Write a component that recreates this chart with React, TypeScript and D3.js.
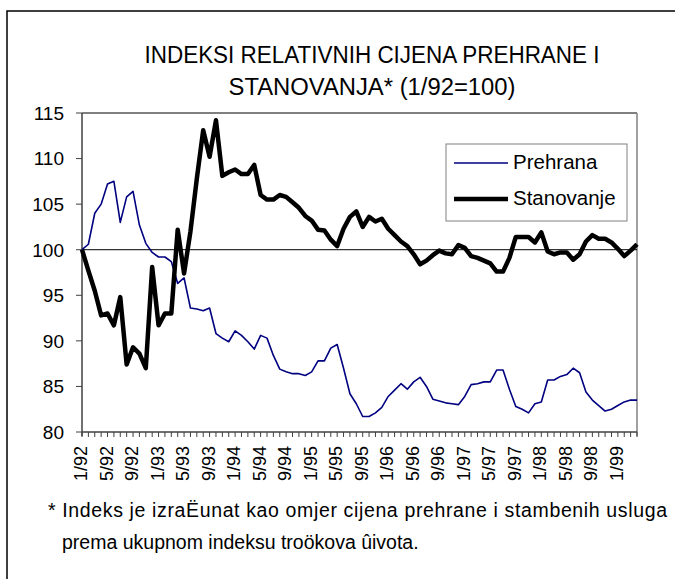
import React from "react";
import * as d3 from "d3";

const W = 675;
const H = 579;

const titleLines = ["INDEKSI RELATIVNIH CIJENA PREHRANE I", "STANOVANJA* (1/92=100)"];
const footnoteLines = [
  "* Indeks je izraËunat kao omjer cijena prehrane i stambenih usluga",
  "prema ukupnom indeksu troökova ûivota.",
];

const months: string[] = Array.from({ length: 88 }, (_, i) => `${(i % 12) + 1}/${92 + Math.floor(i / 12)}`);
const tickLabels = ["1/92","5/92","9/92","1/93","5/93","9/93","1/94","5/94","9/94","1/95","5/95","9/95","1/96","5/96","9/96","1/97","5/97","9/97","1/98","5/98","9/98","1/99"];
const yTicks = [80, 85, 90, 95, 100, 105, 110, 115];

const prehrana = [
  100.0, 100.6, 104.0, 105.0, 107.2, 107.5, 103.0, 105.8, 106.4, 102.7, 100.7, 99.7,
  99.2, 99.2, 98.7, 96.3, 96.9, 93.6, 93.5, 93.3, 93.6, 90.8, 90.3, 89.9,
  91.1, 90.6, 89.9, 89.1, 90.6, 90.3, 88.4, 86.9, 86.6, 86.4, 86.4, 86.2,
  86.6, 87.8, 87.8, 89.2, 89.6, 87.0, 84.2, 83.1, 81.7, 81.7, 82.1, 82.7,
  83.9, 84.6, 85.3, 84.7, 85.5, 86.0, 85.0, 83.6, 83.4, 83.2, 83.1, 83.0,
  83.9, 85.2, 85.3, 85.5, 85.5, 86.8, 86.8, 84.7, 82.8, 82.5, 82.1, 83.1,
  83.3, 85.7, 85.7, 86.1, 86.3, 87.0, 86.5, 84.4, 83.5, 82.9, 82.3, 82.5,
  82.9, 83.3, 83.5, 83.5,
];
const stanovanje = [
  100.0, 97.7, 95.5, 92.8, 93.0, 91.7, 94.8, 87.4, 89.3, 88.6, 87.0, 98.1,
  91.7, 93.0, 93.0, 102.2, 97.4, 102.0, 107.8, 113.1, 110.2, 114.2, 108.1, 108.5,
  108.8, 108.3, 108.3, 109.3, 106.0, 105.5, 105.5, 106.0, 105.8, 105.2, 104.6, 103.7,
  103.2, 102.2, 102.1, 101.1, 100.4, 102.3, 103.6, 104.2, 102.5, 103.6, 103.1, 103.4,
  102.3, 101.6, 100.9, 100.4, 99.5, 98.4, 98.8, 99.4, 99.9, 99.6, 99.5, 100.5,
  100.2, 99.3, 99.1, 98.8, 98.5, 97.6, 97.6, 99.1, 101.4, 101.4, 101.4, 100.8,
  101.9, 99.8, 99.5, 99.7, 99.7, 98.9, 99.5, 100.9, 101.6, 101.2, 101.2, 100.8,
  100.1, 99.3, 99.9, 100.6,
];

const FONT = "'Liberation Sans', Arial, sans-serif";

export default function App() {
  const left = 82, right = 637, top = 113, bottom = 432;
  const x = d3.scalePoint<string>().domain(months).range([left, right]);
  const y = d3.scaleLinear().domain([80, 115]).range([bottom, top]);

  const line = d3
    .line<number>()
    .x((_, i) => x(months[i]) as number)
    .y((d) => y(d));

  const titleWidths = [455, 287];

  return (
    <svg width={W} height={H} style={{ position: "absolute", left: 0, top: 0, background: "#fff" }} fontFamily={FONT}>
      <rect x={0} y={0} width={W} height={H} fill="#fff" />
      <rect x={7} y={11} width={W + 20} height={H + 20} fill="none" stroke="#000" strokeWidth={1.5} />
      {titleLines.map((t, i) => (
        <text
          key={t}
          x={372 - titleWidths[i] / 2}
          y={63 + i * 32}
          fontSize={23}
          fill="#000"
          textLength={titleWidths[i]}
          lengthAdjust="spacingAndGlyphs"
        >
          {t}
        </text>
      ))}
      {/* plot frame top & right */}
      <line x1={left} x2={right} y1={top} y2={top} stroke="#000" strokeWidth={1} />
      <line x1={right} x2={right} y1={top} y2={bottom + 4} stroke="#808080" strokeWidth={1.5} />
      {/* reference line at 100 */}
      <line x1={left} x2={right} y1={y(100)} y2={y(100)} stroke="#000" strokeWidth={1} />
      {/* y axis */}
      <line x1={left} x2={left} y1={top} y2={bottom + 4} stroke="#404040" strokeWidth={1.5} />
      {yTicks.map((v) => (
        <g key={v}>
          <line x1={left - 6} x2={left} y1={y(v)} y2={y(v)} stroke="#404040" strokeWidth={1} />
          <text x={64} y={y(v)} dy="0.36em" textAnchor="end" fontSize={19} fill="#000">
            {v}
          </text>
        </g>
      ))}
      {/* x axis */}
      <line x1={left} x2={right} y1={bottom} y2={bottom} stroke="#404040" strokeWidth={1.5} />
      {months.map((m) => (
        <line key={m} x1={x(m)} x2={x(m)} y1={bottom} y2={bottom + 5} stroke="#404040" strokeWidth={1} />
      ))}
      {tickLabels.map((m) => (
        <text
          key={m}
          transform={`translate(${(x(m) as number) + 5},446) rotate(-90)`}
          textAnchor="end"
          fontSize={18}
          fill="#000"
        >
          {m}
        </text>
      ))}
      {/* series */}
      <path d={line(prehrana) || ""} fill="none" stroke="#000080" strokeWidth={1.6} strokeLinejoin="round" />
      <path d={line(stanovanje) || ""} fill="none" stroke="#000" strokeWidth={4.5} strokeLinejoin="round" />
      {/* legend */}
      <rect x={446} y={144} width={181} height={77} fill="#fff" stroke="#808080" strokeWidth={1} />
      <line x1={454} x2={508} y1={163} y2={163} stroke="#000080" strokeWidth={1.6} />
      <text x={513} y={162} dy="0.36em" fontSize={20.5} fill="#000">Prehrana</text>
      <line x1={454} x2={508} y1={199} y2={199} stroke="#000" strokeWidth={4.5} />
      <text x={513} y={198} dy="0.36em" fontSize={20.5} fill="#000">Stanovanje</text>
      {/* footnote */}
      <text x={48} y={517} fontSize={19.5} fill="#000" textLength={619} lengthAdjust="spacing">
        {footnoteLines[0]}
      </text>
      <text x={62} y={549} fontSize={19.5} fill="#000">
        {footnoteLines[1]}
      </text>
    </svg>
  );
}
